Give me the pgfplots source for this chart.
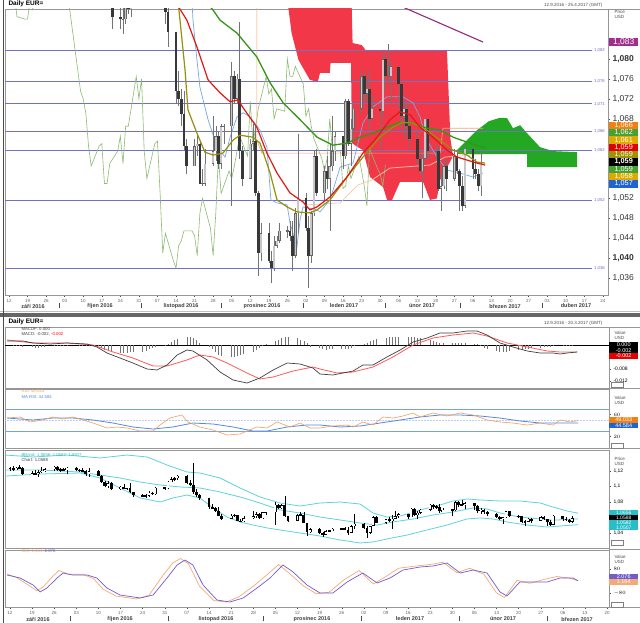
\documentclass[border=0pt]{standalone}
\usepackage{fontspec}
\setmainfont{Liberation Sans}
\usepackage{pgfplots}
\usepackage{pgfplotstable}
\pgfplotsset{compat=1.18}

\definecolor{cloudred}{RGB}{242,56,72}
\definecolor{cloudgreen}{RGB}{36,168,36}
\definecolor{levelblue}{RGB}{112,112,196}
\definecolor{mared}{RGB}{226,24,24}
\definecolor{maolive}{RGB}{150,145,10}
\definecolor{magreen}{RGB}{52,150,22}
\definecolor{tenkan}{RGB}{120,168,230}
\definecolor{kijun}{RGB}{246,166,110}
\definecolor{peach}{RGB}{250,200,160}
\definecolor{chikou}{RGB}{142,186,112}
\definecolor{ma200}{RGB}{150,40,125}
\definecolor{bbcyan}{RGB}{96,210,222}
\definecolor{rsiorange}{RGB}{240,160,90}
\definecolor{rsiblue}{RGB}{86,136,224}
\definecolor{oscpurple}{RGB}{112,92,204}
\definecolor{oscorange}{RGB}{244,170,120}
\definecolor{framegray}{RGB}{150,150,150}
\definecolor{boxorange}{RGB}{240,128,16}
\definecolor{boxgreen}{RGB}{70,160,50}
\definecolor{boxgold}{RGB}{222,170,0}
\definecolor{boxolive}{RGB}{160,145,0}
\definecolor{boxblue}{RGB}{32,100,210}
\definecolor{boxpurple}{RGB}{160,45,140}
\definecolor{boxcyan}{RGB}{40,190,200}

% daily EUR= candles: d = days since 12.9.2016, mh = MACD histogram (x 0.001)
\pgfplotstableread{
d o h l c mh
0 1.1230 1.1250 1.1200 1.1235 0.0
1 1.1235 1.1260 1.1205 1.1215 -0.1
2 1.1215 1.1255 1.1210 1.1245 -0.2
3 1.1245 1.1275 1.1220 1.1240 -0.3
4 1.1240 1.1250 1.1150 1.1155 -0.6
7 1.1155 1.1195 1.1150 1.1170 -0.8
8 1.1170 1.1215 1.1150 1.1155 -0.9
9 1.1155 1.1215 1.1125 1.1187 -0.9
10 1.1187 1.1250 1.1180 1.1205 -0.8
11 1.1205 1.1235 1.1190 1.1225 -0.6
14 1.1225 1.1265 1.1205 1.1255 -0.4
15 1.1255 1.1260 1.1205 1.1215 -0.3
16 1.1215 1.1240 1.1185 1.1215 -0.2
17 1.1215 1.1235 1.1195 1.1222 -0.1
18 1.1222 1.1250 1.1155 1.1240 -0.1
21 1.1240 1.1255 1.1195 1.1210 0.0
22 1.1210 1.1230 1.1185 1.1205 0.1
23 1.1205 1.1235 1.1190 1.1205 0.1
24 1.1205 1.1215 1.1140 1.1155 -0.1
25 1.1155 1.1240 1.1120 1.1200 -0.1
28 1.1200 1.1215 1.1130 1.1140 -0.3
29 1.1140 1.1150 1.1045 1.1055 -0.9
30 1.1055 1.1065 1.0995 1.1005 -1.6
31 1.1005 1.1065 1.0985 1.1045 -2.1
32 1.1045 1.1055 1.0960 1.0970 -2.5
35 1.0970 1.1005 1.0955 1.0995 -2.7
36 1.0995 1.1030 1.0970 1.0975 -2.7
37 1.0975 1.0985 1.0955 1.0975 -2.6
38 1.0975 1.1040 1.0915 1.0930 -2.5
39 1.0930 1.0935 1.0860 1.0885 -2.4
42 1.0885 1.0905 1.0860 1.0880 -2.2
43 1.0880 1.0905 1.0850 1.0880 -1.9
44 1.0880 1.0945 1.0870 1.0920 -1.5
45 1.0920 1.0935 1.0890 1.0900 -1.1
46 1.0900 1.0990 1.0885 1.0985 -0.6
49 1.0985 1.0995 1.0960 1.0980 -0.2
50 1.0980 1.1075 1.0970 1.1060 0.4
51 1.1060 1.1125 1.1055 1.1095 1.0
52 1.1095 1.1125 1.1070 1.1105 1.6
53 1.1105 1.1145 1.1080 1.1140 2.1
56 1.1140 1.1145 1.1030 1.1045 2.7
57 1.1045 1.1085 1.1005 1.1025 2.5
58 1.1025 1.1300 1.0905 1.0925 2.2
59 1.0925 1.0965 1.0870 1.0895 1.6
60 1.0895 1.0905 1.0825 1.0855 0.8
63 1.0855 1.0855 1.0710 1.0735 -0.6
64 1.0735 1.0775 1.0705 1.0720 -1.5
65 1.0720 1.0740 1.0665 1.0690 -2.4
66 1.0690 1.0735 1.0615 1.0625 -3.2
67 1.0625 1.0640 1.0570 1.0585 -3.8
70 1.0585 1.0640 1.0585 1.0625 -4.0
71 1.0625 1.0650 1.0605 1.0630 -4.0
72 1.0630 1.0635 1.0550 1.0550 -3.8
73 1.0550 1.0580 1.0545 1.0550 -3.5
74 1.0550 1.0620 1.0545 1.0590 -3.0
77 1.0590 1.0685 1.0585 1.0615 -2.2
78 1.0615 1.0665 1.0595 1.0645 -1.6
79 1.0645 1.0655 1.0580 1.0590 -1.0
80 1.0590 1.0670 1.0580 1.0665 -0.4
81 1.0665 1.0670 1.0630 1.0665 0.3
84 1.0665 1.0795 1.0505 1.0765 1.2
85 1.0765 1.0775 1.0710 1.0720 1.8
86 1.0720 1.0770 1.0710 1.0760 2.4
87 1.0760 1.0875 1.0600 1.0615 2.7
88 1.0615 1.0625 1.0545 1.0560 2.6
91 1.0560 1.0640 1.0560 1.0630 2.2
92 1.0630 1.0670 1.0615 1.0635 1.6
93 1.0635 1.0665 1.0525 1.0530 1.2
94 1.0530 1.0535 1.0365 1.0410 0.5
95 1.0410 1.0470 1.0395 1.0450 -0.6
98 1.0450 1.0470 1.0390 1.0395 -1.0
99 1.0395 1.0415 1.0350 1.0380 -1.5
100 1.0380 1.0445 1.0375 1.0425 -1.6
101 1.0425 1.0445 1.0420 1.0435 -1.5
102 1.0435 1.0470 1.0430 1.0455 -1.4
105 1.0455 1.0465 1.0440 1.0455 -1.3
106 1.0455 1.0475 1.0435 1.0445 -1.2
107 1.0445 1.0475 1.0375 1.0405 -1.2
108 1.0405 1.0500 1.0400 1.0490 -0.9
109 1.0490 1.0650 1.0450 1.0520 -0.5
112 1.0520 1.0530 1.0455 1.0460 0.4
113 1.0460 1.0485 1.0340 1.0405 0.8
114 1.0405 1.0495 1.0390 1.0490 1.2
115 1.0490 1.0615 1.0485 1.0605 1.6
116 1.0605 1.0620 1.0525 1.0530 2.0
119 1.0530 1.0585 1.0515 1.0575 2.3
120 1.0575 1.0605 1.0540 1.0560 2.5
121 1.0560 1.0630 1.0455 1.0585 2.6
122 1.0585 1.0685 1.0575 1.0615 2.6
123 1.0615 1.0655 1.0595 1.0645 2.5
126 1.0645 1.0645 1.0580 1.0605 2.6
127 1.0605 1.0720 1.0600 1.0715 2.7
128 1.0715 1.0720 1.0625 1.0630 2.5
129 1.0630 1.0680 1.0585 1.0660 2.4
130 1.0660 1.0710 1.0640 1.0700 2.3
133 1.0700 1.0775 1.0690 1.0765 1.8
134 1.0765 1.0775 1.0715 1.0730 1.4
135 1.0730 1.0760 1.0715 1.0740 1.0
136 1.0740 1.0775 1.0660 1.0680 0.8
137 1.0680 1.0725 1.0675 1.0700 0.7
140 1.0700 1.0710 1.0620 1.0695 0.6
141 1.0695 1.0810 1.0685 1.0800 0.6
142 1.0800 1.0810 1.0735 1.0765 0.6
143 1.0765 1.0830 1.0750 1.0765 0.5
144 1.0765 1.0795 1.0710 1.0785 0.5
147 1.0785 1.0785 1.0700 1.0750 0.4
148 1.0750 1.0755 1.0655 1.0685 0.2
149 1.0685 1.0720 1.0640 1.0700 -0.3
150 1.0700 1.0710 1.0645 1.0665 -0.9
151 1.0665 1.0680 1.0620 1.0640 -1.5
154 1.0640 1.0660 1.0590 1.0600 -2.0
155 1.0600 1.0620 1.0570 1.0575 -2.4
156 1.0575 1.0610 1.0520 1.0600 -2.5
157 1.0600 1.0680 1.0595 1.0680 -2.3
158 1.0680 1.0680 1.0600 1.0615 -2.0
161 1.0615 1.0630 1.0595 1.0615 -1.8
162 1.0615 1.0625 1.0535 1.0540 -1.6
163 1.0540 1.0570 1.0495 1.0545 -1.4
164 1.0545 1.0600 1.0540 1.0585 -1.2
165 1.0585 1.0595 1.0535 1.0560 -1.0
168 1.0560 1.0620 1.0555 1.0605 -0.9
169 1.0605 1.0615 1.0570 1.0575 -0.8
170 1.0575 1.0580 1.0495 1.0545 -0.7
171 1.0545 1.0565 1.0495 1.0505 -0.6
172 1.0505 1.0630 1.0500 1.0620 -0.5
175 1.0620 1.0625 1.0560 1.0580 -0.4
176 1.0580 1.0600 1.0560 1.0570 -0.3
177 1.0570 1.0580 1.0535 1.0545 -0.3
178 1.0545 1.0615 1.0525 1.0588 -0.2
}\ohlc

% #1 wick, #2 up outline, #3 up fill, #4 down fill, #5 body width, #6 inner width, #7 inset, #8 min half body
\newcommand\candles[8]{%
\addplot[draw=none, forget plot, error bars/.cd, y dir=both, y explicit, error mark=none,
  error bar style={draw=#1, line width=0.45pt, solid}]
  table[x=d, y expr={(\thisrow{h}+\thisrow{l})/2}, y error expr={(\thisrow{h}-\thisrow{l})/2}] {\ohlc};
\addplot[draw=none, forget plot, restrict expr to domain={\thisrow{o}-\thisrow{c}}{0.00001:1},
  error bars/.cd, y dir=both, y explicit, error mark=none, error bar style={draw=#4, line width=#5, solid}]
  table[x=d, y expr={(\thisrow{o}+\thisrow{c})/2}, y error expr={max(abs(\thisrow{c}-\thisrow{o})/2,#8)}] {\ohlc};
\addplot[draw=none, forget plot, restrict expr to domain={\thisrow{c}-\thisrow{o}}{0:1},
  error bars/.cd, y dir=both, y explicit, error mark=none, error bar style={draw=#2, line width=#5, solid}]
  table[x=d, y expr={(\thisrow{o}+\thisrow{c})/2}, y error expr={max(abs(\thisrow{c}-\thisrow{o})/2,#8)}] {\ohlc};
\addplot[draw=none, forget plot, restrict expr to domain={\thisrow{c}-\thisrow{o}}{0:1},
  error bars/.cd, y dir=both, y explicit, error mark=none, error bar style={draw=#3, line width=#6, solid}]
  table[x=d, y expr={(\thisrow{o}+\thisrow{c})/2}, y error expr={max(abs(\thisrow{c}-\thisrow{o})/2-#7,0)}] {\ohlc};
}

\newcommand\valbox[5]{\node[fill=#1, text=#2, anchor=west, inner sep=0pt, minimum width=#5, minimum height=#4,
  font=\fontsize{#4}{#4}\selectfont] at (609,#3)}

\pgfplotsset{
  every axis/.append style={scale only axis, anchor=south west,
    axis line style={framegray, line width=0.6pt},
    tick style={black!70, line width=0.4pt}, tick align=outside, major tick length=2pt,
    ytick pos=right, xtick pos=bottom,
    yticklabel style={font=\fontsize{5}{5}\selectfont, xshift=-1pt},
    xticklabel style={font=\fontsize{4.5}{5}\selectfont, text=black!60, yshift=1pt}},
  lower/.style={width=604pt, xmin=-1.58, xmax=189.6},
}

\begin{document}
\begin{tikzpicture}[x=1pt,y=1pt]
\path[use as bounding box, fill=white] (0,0) rectangle (640,623);

% ---------- main price panel ----------
\begin{axis}[at={(5pt,328pt)}, width=603pt, height=286pt,
  xmin=-1.51, xmax=225.95, ymin=1.03261, ymax=1.09004,
  xtick={0,7,...,224},
  xticklabels={12,19,26,03,10,17,24,31,07,14,21,28,05,12,19,26,02,09,16,23,30,06,13,20,27,06,13,20,27,03,10,17,24},
  ytick={1.036,1.040,1.044,1.048,1.052,1.068,1.072,1.076,1.080},
  yticklabels={{1,036},{\bfseries 1,040},{1,044},{1,048},{1,052},{1,068},{1,072},{1,076},{\bfseries 1,080}},
  yticklabel style={font=\fontsize{8.5}{9}\selectfont, text=black!80}]
% Ichimoku cloud
\addplot[fill=cloudred, draw=none] coordinates {
 (104.9,1.0920) (129.2,1.0920) (129.6,1.0832) (133,1.0828) (134.5,1.0818) (165.2,1.0818) (166.5,1.0640) (167.5,1.0605)
 (166,1.0590) (162.6,1.0557) (161.4,1.0520) (158.8,1.0517) (156.2,1.0553) (147.5,1.0553) (144.5,1.0517) (142.6,1.0517)
 (141.1,1.0543) (136.2,1.0563) (133.5,1.0617) (131,1.0625) (129.4,1.0631) (129.0,1.0792) (121.3,1.0792) (121,1.0772)
 (117.3,1.0772) (116.5,1.0754) (113.5,1.0758) (109.2,1.0798) (106.6,1.0852) (105.5,1.0898)} -- cycle;
\addplot[fill=cloudgreen, draw=none] coordinates {
 (169,1.0617) (176.5,1.0657) (181,1.0675) (185.2,1.0682) (187.9,1.0681) (190.1,1.0661) (192.8,1.0667) (195.4,1.0651)
 (200.3,1.0623) (205.2,1.0615) (214.3,1.0613) (214.3,1.0583) (195.4,1.0583) (195.4,1.0609) (169,1.0609)} -- cycle;
% horizontal levels
\foreach \lv in {1.0818,1.0755,1.0710,1.0654,1.0616,1.0516,1.0380}{
  \addplot[levelblue, line width=0.8pt, forget plot] coordinates {(-1.51,\lv) (219.9,\lv)};
}
% chikou span (close shifted back)
\addplot[chikou, line width=0.6pt] table[x expr=\thisrow{d}-36, y=c] {\ohlc};
% kijun / tenkan
\addplot[kijun, line width=0.7pt] coordinates {(93.5,1.0918) (93.5,1.0637) (95.4,1.0611) (162.6,1.0611) (163.7,1.0661) (178.8,1.0661)};
\addplot[peach, line width=0.7pt] coordinates {(111.7,1.0507) (124.9,1.0511) (131.6,1.0547) (136.9,1.0557) (143.7,1.0581) (158.8,1.0587) (164.5,1.0603) (178.8,1.0609)};
\addplot[tenkan, line width=0.7pt] coordinates {
 (69.0,1.0918) (69.4,1.0878) (70.9,1.0798) (72.0,1.0744) (75.1,1.0678) (78.5,1.0623) (81.5,1.0603) (83.4,1.0643)
 (86.0,1.0684) (88.3,1.0692) (90.9,1.0684) (94.7,1.0657) (97.3,1.0623) (98.8,1.0517) (101.1,1.0511) (104.9,1.0507)
 (106.0,1.0471) (108.6,1.0422) (109.8,1.0477) (110.9,1.0503) (116.2,1.0497) (117.3,1.0493) (121.1,1.0517) (124.9,1.0583)
 (129.8,1.0591) (133.5,1.0671) (137.3,1.0704) (142.6,1.0724) (148.6,1.0724) (152.4,1.0712) (155.0,1.0684) (157.7,1.0637)
 (161.4,1.0603) (165.2,1.0577) (170.1,1.0571) (175.0,1.0563) (178.8,1.0571)};
% candles
\candles{black!55}{black!60}{black!22}{black!78}{2.6pt}{1.6pt}{0.0001}{0.00012}
% moving averages
\addplot[magreen, line width=1.3pt] coordinates {
 (73.9,1.0918) (77.0,1.0898) (79.6,1.0878) (86.0,1.0852) (93.5,1.0804) (98.5,1.0752) (103.4,1.0712) (109.8,1.0678)
 (116.2,1.0643) (122.2,1.0627) (127.5,1.0631) (132.4,1.0643) (137.3,1.0651) (142.6,1.0663) (147.5,1.0673) (152.4,1.0671)
 (157.7,1.0661) (162.6,1.0657) (167.5,1.0643) (172.8,1.0633) (179.6,1.0621)};
\addplot[maolive, line width=1.2pt] coordinates {
 (63.7,1.0918) (64.5,1.0878) (66.4,1.0778) (67.5,1.0698) (70.9,1.0651) (73.9,1.0613) (77.0,1.0607) (80.7,1.0611)
 (84.5,1.0637) (87.1,1.0647) (92.0,1.0643) (94.7,1.0631) (98.5,1.0571) (101.1,1.0517) (104.9,1.0503) (108.6,1.0493)
 (113.5,1.0491) (116.2,1.0497) (121.1,1.0517) (127.5,1.0563) (133.5,1.0603) (139.9,1.0643) (144.8,1.0663) (148.6,1.0673)
 (152.4,1.0671) (157.7,1.0657) (162.6,1.0637) (167.5,1.0617) (172.8,1.0607) (176.5,1.0593) (179.6,1.0591)};
\addplot[mared, line width=1.2pt] coordinates {
 (62.6,1.0918) (64.5,1.0900) (67.1,1.0878) (70.9,1.0824) (75.1,1.0758) (79.6,1.0732) (83.4,1.0714) (86.4,1.0718)
 (88.3,1.0702) (93.5,1.0663) (97.3,1.0611) (101.1,1.0571) (106.0,1.0531) (110.9,1.0513) (113.5,1.0497) (116.2,1.0503)
 (121.1,1.0523) (127.5,1.0563) (133.5,1.0611) (138.8,1.0643) (143.7,1.0678) (147.5,1.0694) (151.3,1.0688) (155.0,1.0663)
 (159.9,1.0643) (165.2,1.0617) (169.0,1.0603) (172.8,1.0597) (176.5,1.0591) (179.6,1.0587)};
\addplot[ma200, line width=1.1pt] coordinates {(141.8,1.0920) (178.8,1.0834)};
\end{axis}

% ---------- MACD ----------
\begin{axis}[lower, at={(5pt,235pt)}, height=61pt, ymin=-14.33, ymax=6,
  xtick=\empty, ytick={-12,-8}, yticklabels={{-0.012},{-0.008}}]
\addplot[black, line width=0.5pt] coordinates {(-1.58,0) (189.6,0)};
\addplot[ycomb, black!55, line width=0.6pt] table[x=d, y=mh] {\ohlc};
\addplot[red!65, line width=0.8pt] coordinates {
 (-0.9,1.67) (7.3,0.67) (18.0,0.67) (26.3,0) (32.6,-2.33) (38.9,-4.33) (45.3,-7.0) (49.7,-7.0) (56.0,-5.0) (60.1,-3.33)
 (64.3,-4.0) (68.7,-6.0) (75.0,-9.33) (79.1,-11.33) (83.3,-10.67) (89.6,-8.67) (95.9,-7.33) (98.1,-8.0) (103.5,-9.33)
 (108.6,-9.0) (114.9,-7.33) (121.2,-4.0) (127.6,0) (133.9,2.33) (140.2,3.33) (146.6,4.0) (151.0,3.0) (157.3,0.67)
 (163.7,-0.67) (170.0,-2.0) (174.1,-2.33) (179.5,-2.33)};
\addplot[black!75, line width=0.7pt] coordinates {
 (-0.9,1.33) (4.1,1.33) (7.3,0.67) (12.7,0.33) (18.0,0.67) (24.4,0.33) (27.5,-0.67) (30.7,-2.67) (34.8,-4.33) (38.9,-6.0)
 (43.4,-8.0) (46.5,-8.33) (49.7,-6.67) (52.9,-3.33) (56.0,-1.67) (57.9,-2.0) (62.4,-5.0) (66.5,-9.0) (70.6,-11.67)
 (75.0,-12.67) (79.1,-11.0) (83.3,-8.33) (87.7,-6.0) (91.8,-6.33) (95.9,-7.67) (98.1,-9.67) (102.2,-10.0) (108.6,-8.67)
 (111.7,-6.67) (114.9,-6.67) (119.3,-4.0) (123.5,-1.67) (127.6,1.0) (132.0,2.33) (136.1,4.0) (140.2,4.0) (144.7,4.67)
 (147.8,4.67) (151.0,3.33) (155.1,0.67) (159.2,-0.67) (163.7,-2.0) (167.8,-2.67) (171.9,-2.67) (174.1,-3.0) (176.3,-2.67)
 (179.5,-2.33)};
\end{axis}

% ---------- RSI ----------
\begin{axis}[lower, at={(5pt,175pt)}, height=59pt, ymin=-0.9, ymax=106.4,
  xtick=\empty, ytick={20,60}]
\addplot[rsiblue!80, line width=0.8pt] coordinates {(-1.58,70) (189.6,70)};
\addplot[rsiblue!80, line width=0.8pt] coordinates {(-1.58,30) (189.6,30)};
\addplot[rsiblue!40, densely dotted, line width=0.5pt] coordinates {(-1.58,50) (189.6,50)};
\addplot[rsiblue, line width=0.8pt] coordinates {
 (-0.9,53.6) (7.3,50) (13.6,53.6) (19.9,53.6) (26.3,50) (32.6,44.5) (38.9,37.3) (45.3,33.6) (51.6,37.3) (57.9,44.5)
 (64.3,42.7) (70.6,37.3) (76.9,30) (81.4,30) (87.7,37.3) (94.0,40.9) (98.1,40.9) (104.5,37.3) (110.8,39.1) (117.1,44.5)
 (123.5,50) (129.8,55.5) (136.1,59.1) (142.5,59.1) (148.8,57.3) (155.1,53.6) (161.4,48.2) (167.8,44.5) (174.1,44.5) (179.8,44.6)};
\addplot[rsiorange, line width=0.6pt] coordinates {
 (-0.9,53.6) (3.2,55.5) (6.3,46.4) (10.4,50) (13.6,55.5) (16.8,51.8) (19.9,55.5) (23.1,50) (26.3,44.5) (30.7,35.5)
 (33.9,37.3) (37.0,35.5) (41.2,30) (45.3,30) (47.5,40.9) (50.6,53.6) (54.4,59.1) (56.3,46.4) (60.1,37.3) (64.3,31.8)
 (68.7,22.7) (72.8,24.5) (75.0,30) (78.2,37.3) (81.4,35.5) (84.5,46.4) (88.6,37.3) (91.8,44.5) (95.0,35.5) (98.1,35.5)
 (102.2,39.1) (106.7,40.9) (108.6,37.3) (111.7,46.4) (114.9,40.9) (118.1,55.5) (121.2,53.6) (124.4,57.3) (127.6,62.7)
 (129.8,55.5) (133.9,62.7) (138.3,57.3) (142.5,62.7) (146.6,59.1) (151.0,50) (155.1,46.4) (159.2,44.5) (163.7,40.9)
 (167.8,44.5) (171.9,40.9) (174.1,50) (177.3,46.4) (179.8,49.0)};
\end{axis}

% ---------- Bollinger ----------
\begin{axis}[lower, at={(5pt,75pt)}, height=98pt, ymin=1.02065, ymax=1.1471,
  xtick=\empty, ytick={1.04,1.08,1.1,1.12}, yticklabels={{1,04},{1,08},{1,1},{1,12}}]
\addplot[bbcyan, line width=0.8pt] coordinates {
 (-1.5,1.1406) (7.3,1.1381) (18.0,1.1406) (28.5,1.1368) (37.0,1.1406) (43.4,1.1381) (49.7,1.1277) (56.0,1.1187)
 (60.1,1.1174) (66.5,1.1110) (72.8,1.0981) (79.1,1.0865) (85.5,1.0787) (91.8,1.0748) (98.1,1.0787) (104.5,1.0800)
 (110.8,1.0774) (114.9,1.0658) (119.3,1.0606) (123.5,1.0619) (129.8,1.0697) (136.1,1.0761) (140.2,1.0813) (144.7,1.0839)
 (148.8,1.0826) (155.1,1.0813) (161.4,1.0813) (167.8,1.0787) (171.9,1.0735) (176.3,1.0684) (179.8,1.0656)};
\addplot[bbcyan, line width=0.8pt] coordinates {
 (-1.5,1.1213) (9.5,1.1213) (22.2,1.1187) (28.5,1.1148) (34.8,1.1110) (41.2,1.1058) (47.5,1.1019) (53.8,1.0994)
 (60.1,1.0981) (66.5,1.0929) (72.8,1.0865) (79.1,1.0787) (85.5,1.0697) (91.8,1.0658) (98.1,1.0606) (104.5,1.0568)
 (110.8,1.0529) (116.2,1.0503) (121.2,1.0542) (127.6,1.0581) (133.9,1.0632) (140.2,1.0671) (146.6,1.0723) (151.0,1.0710)
 (155.1,1.0658) (161.4,1.0606) (167.8,1.0581) (171.9,1.0565) (179.8,1.0582)};
\addplot[bbcyan, line width=0.8pt] coordinates {
 (-1.5,1.1135) (9.5,1.1161) (22.2,1.1174) (28.5,1.1110) (34.8,1.0981) (41.2,1.0852) (47.5,1.0800) (51.6,1.0852)
 (56.0,1.0890) (60.1,1.0852) (64.3,1.0723) (68.7,1.0606) (72.8,1.0542) (76.9,1.0503) (81.4,1.0465) (85.5,1.0439)
 (89.6,1.0413) (94.0,1.0387) (98.1,1.0361) (104.5,1.0310) (110.8,1.0271) (114.9,1.0284) (119.3,1.0323) (125.7,1.0374)
 (132.0,1.0439) (138.3,1.0503) (144.7,1.0581) (148.8,1.0594) (152.9,1.0581) (157.3,1.0542) (163.7,1.0503) (170.0,1.0477)
 (174.1,1.0490) (179.8,1.0507)};
\candles{black}{black}{white}{black}{2.9pt}{1.9pt}{0.0007}{0.0009}
\end{axis}

% ---------- oscillator ----------
\begin{axis}[lower, at={(5pt,16pt)}, height=57pt, ymin=-173.3, ymax=206.7,
  xtick={0,7,...,189},
  xticklabels={12,19,26,03,10,17,24,31,07,14,21,28,05,12,19,26,02,09,16,23,30,06,13,20,27,06,13,20},
  ytick={-80,80}]
\addplot[oscorange, line width=0.7pt] coordinates {
 (-0.9,45) (2,25) (6,-30) (8.5,-65) (10.5,-40) (13.5,30) (15.5,70) (18.5,45) (23,45) (26.5,15) (29.5,-55) (33.5,-100)
 (40,-120) (44,-95) (48.5,40) (51.5,120) (54,150) (56.5,115) (60,-35) (64.5,-130) (68.5,-140) (72.5,-105) (77,-35)
 (81,35) (85,110) (88.5,50) (93,-35) (97,-85) (101,-75) (105.5,5) (110.5,70) (115,-20) (119,30) (123,85) (128.5,100)
 (133,110) (137,125) (141.5,55) (145.5,85) (150,45) (154,-80) (156.5,-110) (160.5,5) (164.5,-15) (169,10) (173,30)
 (177,20) (179.8,1.2)};
\addplot[oscpurple, line width=0.7pt] coordinates {
 (-0.9,40) (3.2,20) (7.3,-26.7) (9.5,-73.3) (11.7,-46.7) (14.9,20) (16.8,53.3) (19.9,40) (24.4,40) (27.5,20) (30.7,-46.7)
 (34.8,-93.3) (41.2,-113.3) (45.3,-93.3) (49.7,20) (52.9,106.7) (55.4,140) (57.9,106.7) (61.1,-26.7) (65.5,-126.7)
 (69.6,-140) (73.8,-113.3) (78.2,-46.7) (82.3,20) (86.4,106.7) (89.6,60) (94.0,-26.7) (98.1,-80) (102.2,-80) (106.7,-6.7)
 (111.7,53.3) (116.2,-13.3) (120.3,20) (124.4,73.3) (129.8,93.3) (133.9,100) (138.3,120) (142.5,53.3) (146.6,73.3)
 (151.0,53.3) (155.1,-73.3) (157.3,-100) (161.4,-6.7) (165.6,-6.7) (170.0,-6.7) (174.1,20) (178.2,20) (179.8,2.1)};
\end{axis}

% ---------- frames and separators ----------
\draw[framegray, line width=0.6pt] (608,614) -- (640,614);
\fill[black!60] (0,306) rectangle (640,309.5);
\draw[black!25, line width=0.6pt] (0,311.5) -- (640,311.5);
\foreach \yy in {296,235,175,74}{\draw[framegray, line width=0.6pt] (609,\yy) -- (640,\yy);}
\draw[framegray, line width=0.6pt] (609,16) -- (640,16);
\draw[black!70, line width=0.8pt] (3.5,0) -- (3.5,623);

% titles
\node[anchor=west, font=\fontsize{6.5}{7}\selectfont\bfseries] at (5,619) {Daily EUR=};
\node[anchor=west, font=\fontsize{6.5}{7}\selectfont\bfseries] at (5,301) {Daily EUR=};
\node[anchor=east, font=\fontsize{4.5}{5}\selectfont, text=black!70] at (606,618) {12.9.2016 - 25.4.2017 (GMT)};
\node[anchor=east, font=\fontsize{4.5}{5}\selectfont, text=black!70] at (606,300) {12.9.2016 - 20.3.2017 (GMT)};

% month names, top panel
\foreach \xx/\mm in {33/září 2016,100/říjen 2016,181/listopad 2016,262/prosinec 2016,344/leden 2017,422/únor 2017,505/březen 2017,576/duben 2017}{
  \node[font=\fontsize{5.5}{6}\selectfont\bfseries, text=black!75] at (\xx,317) {\mm};}
\foreach \xx in {59,141,221,303,385,460,542}{\draw[black!70, line width=0.4pt] (\xx,314.5) -- (\xx,319.5);}
% month names, lower panels
\foreach \xx/\mm in {38/září 2016,120/říjen 2016,216/listopad 2016,312/prosinec 2016,410/leden 2017,503/únor 2017,577/březen 2017}{
  \node[font=\fontsize{5.5}{6}\selectfont\bfseries, text=black!75] at (\xx,4) {\mm};}
\foreach \xx in {70,168,263,361,459,547}{\draw[black!70, line width=0.4pt] (\xx,1.5) -- (\xx,6.5);}

% level labels
\foreach \yy/\lab in {573/{1,082},541.5/{1,076},519/{1,071},491.5/{1,066},472.5/{1,062},422.5/{1,052},355/{1,036}}{
  \node[fill=white, inner sep=0.3pt, font=\fontsize{4.3}{4.5}\selectfont, text=levelblue] at (599.5,\yy) {\lab};}

% price/unit headers
\foreach \yy/\aa/\bb in {611/Price/USD,290/Value/USD,225/Value/USD,164/Price/USD,66/Value/USD}{
  \node[anchor=west, font=\fontsize{4.5}{5}\selectfont, text=black!70] at (611,\yy) {\aa};
  \node[anchor=west, font=\fontsize{4.5}{5}\selectfont, text=black!70] at (611,\yy-4.6) {\bb};}

% value boxes, main panel
\valbox{boxpurple}{white}{581}{8.5pt}{29pt} {1,083};
\valbox{boxorange}{white}{497.5}{7.3pt}{29pt} {1,066};
\valbox{boxgreen}{white}{490.2}{7.3pt}{29pt} {1,062};
\valbox{boxgold}{white}{482.9}{7.3pt}{29pt} {1,061};
\valbox{red!90!black}{white}{475.6}{7.3pt}{29pt} {1,059};
\valbox{boxolive}{white}{468.3}{7.3pt}{29pt} {1,059};
\valbox{black}{white}{461}{7.3pt}{29pt} {\bfseries 1,059};
\valbox{boxgreen}{white}{453.7}{7.3pt}{29pt} {1,059};
\valbox{boxgold}{white}{446.4}{7.3pt}{29pt} {1,058};
\valbox{boxblue}{white}{439.1}{7.3pt}{29pt} {1,057};
% value boxes, lower panels
\valbox{black}{white}{278}{5.5pt}{29pt} {0.000};
\valbox{black}{white}{272.5}{5.5pt}{29pt} {-0.002};
\valbox{red!90!black}{white}{267}{5.5pt}{29pt} {-0.002};
\valbox{boxorange}{white}{203}{5.5pt}{29pt} {49.033};
\valbox{boxblue}{white}{197.5}{5.5pt}{29pt} {44.584};
\valbox{boxcyan}{white}{110}{5pt}{29pt} {1.0656};
\valbox{black}{white}{105}{5pt}{29pt} {1.0588};
\valbox{boxcyan}{white}{100}{5pt}{29pt} {1.0582};
\valbox{boxcyan}{white}{95}{5pt}{29pt} {1.0507};
\valbox{oscpurple}{white}{46.5}{5.5pt}{29pt} {2.076};
\valbox{oscorange}{white}{41}{5.5pt}{29pt} {1.164};
% little panel icons
\foreach \yy in {238,177,80,18}{\draw[black!50, line width=0.4pt, fill=white] (611,\yy-2.5) rectangle (623,\yy+2.5);}

% indicator legends
\node[anchor=west, font=\fontsize{4.3}{4.5}\selectfont, text=black!75] at (18,294) {MACDF: 0.000};
\node[anchor=west, font=\fontsize{4.3}{4.5}\selectfont, text=black!75] at (18,289) {MACD: -0.002, \textcolor{red}{-0.002}};
\node[anchor=west, font=\fontsize{4.3}{4.5}\selectfont, text=rsiorange] at (18,232) {RSI: 49.033};
\node[anchor=west, font=\fontsize{4.3}{4.5}\selectfont, text=rsiblue] at (18,226) {MA RSI: 44.584};
\node[anchor=west, font=\fontsize{4.3}{4.5}\selectfont, text=boxcyan] at (18,168) {BBand: 1.0656; 1.0582; 1.0507};
\node[anchor=west, font=\fontsize{4.3}{4.5}\selectfont, text=black!75] at (18,163) {Chart: 1.0588};
\node[anchor=west, font=\fontsize{4.3}{4.5}\selectfont, text=oscorange] at (18,72) {SMI: 1.164; \textcolor{oscpurple}{2.076}};
\end{tikzpicture}
\end{document}
